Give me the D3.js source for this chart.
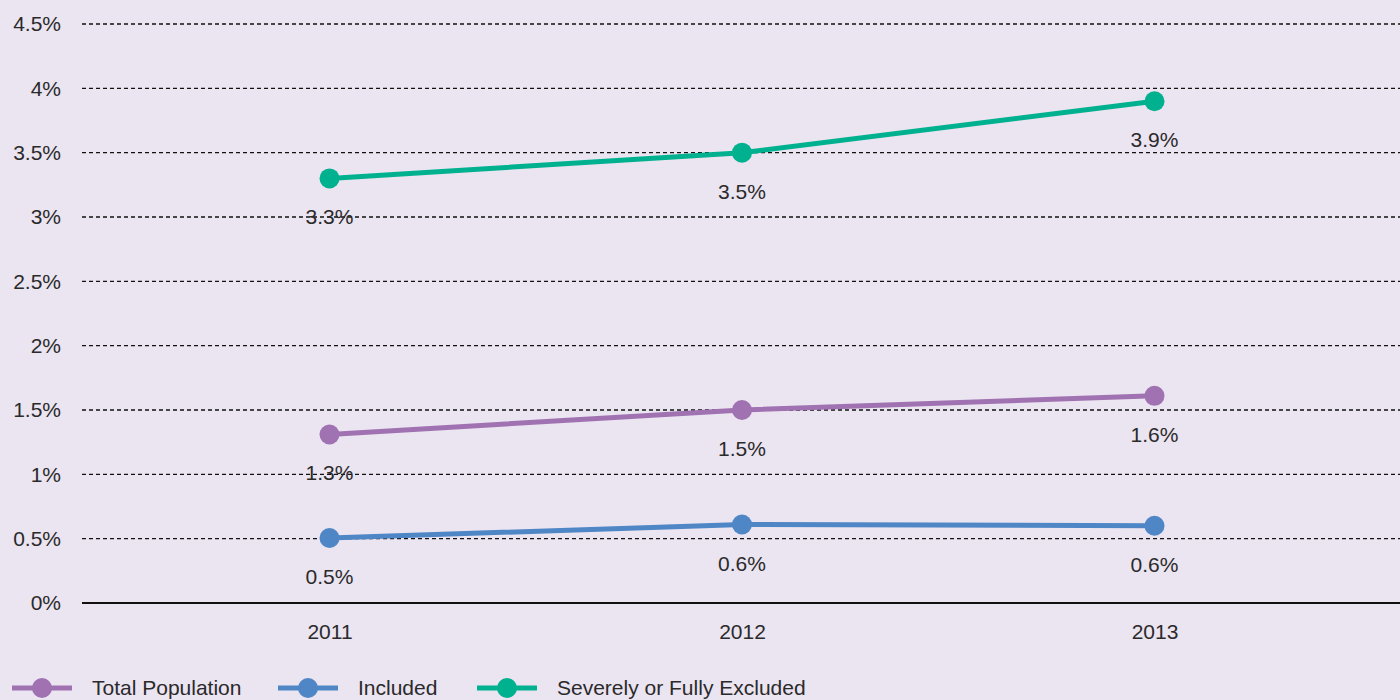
<!DOCTYPE html>
<html><head><meta charset="utf-8">
<script src="https://cdn.jsdelivr.net/npm/d3@7"></script>
<style>
html,body{margin:0;padding:0;background:#ebe4f1;}
svg{display:block;font-family:"Liberation Sans",Arial,sans-serif;}
</style></head>
<body>
<svg id="chart" width="1400" height="700"></svg>
<script>
const years = ["2011","2012","2013"];
const totalPopulation = [1.31, 1.5, 1.61];
const included = [0.505, 0.61, 0.6];
const severelyExcluded = [3.3, 3.5, 3.9];
const yTicks = [0,0.5,1,1.5,2,2.5,3,3.5,4,4.5];
const series = [
  {name:"Total Population", values: totalPopulation, color:"#a072b1"},
  {name:"Included", values: included, color:"#4f86c6"},
  {name:"Severely or Fully Excluded", values: severelyExcluded, color:"#00b18f"}
];

const svg = d3.select("#chart");
svg.append("rect").attr("width",1400).attr("height",700).attr("fill","#ebe4f1");

const x = d3.scalePoint().domain(years).range([82,1402]).padding(0.6);
const y = d3.scaleLinear().domain([0,4.5]).range([603,24]);

// gridlines
const grid = svg.append("g");
grid.selectAll("line").data(yTicks.filter(d=>d>0)).join("line")
  .attr("x1",82).attr("x2",1400)
  .attr("y1",d=>y(d)).attr("y2",d=>y(d))
  .attr("stroke","#111").attr("stroke-width",1.3).attr("stroke-dasharray","4,3");

// y axis labels
const yAxis = d3.axisLeft(y).tickValues(yTicks).tickSize(0).tickPadding(0)
  .tickFormat(d=>d3.format("~g")(d)+"%");
const ya = svg.append("g").attr("transform","translate(61,0)").call(yAxis);
ya.select(".domain").remove();
ya.selectAll("text").attr("font-size",21).attr("fill","#2a2a2a").attr("font-family","Liberation Sans, Arial, sans-serif");

// zero line
svg.append("line").attr("x1",82).attr("x2",1400).attr("y1",y(0)).attr("y2",y(0))
  .attr("stroke","#111").attr("stroke-width",2);

// x axis labels
const xAxis = d3.axisBottom(x).tickSize(0).tickPadding(0);
const xa = svg.append("g").attr("transform","translate(0,639)").call(xAxis);
xa.select(".domain").remove();
xa.selectAll("text").attr("font-size",21).attr("fill","#2a2a2a").attr("dy","0").attr("font-family","Liberation Sans, Arial, sans-serif");

// lines
const line = d3.line().x((d,i)=>x(years[i])).y(d=>y(d));
series.forEach(s=>{
  svg.append("path").attr("d",line(s.values)).attr("fill","none")
    .attr("stroke",s.color).attr("stroke-width",5);
  svg.selectAll(null).data(s.values).join("circle")
    .attr("cx",(d,i)=>x(years[i])).attr("cy",d=>y(d)).attr("r",10).attr("fill",s.color);
  svg.selectAll(null).data(s.values).join("text")
    .attr("x",(d,i)=>x(years[i])).attr("y",d=>y(d)+46)
    .attr("text-anchor","middle").attr("font-size",21).attr("fill","#2a2a2a")
    .text(d=>d3.format(".1f")(d)+"%");
});

// legend
const legendX = [12, 278, 477];
series.forEach((s,i)=>{
  const g = svg.append("g").attr("transform",`translate(${legendX[i]},688)`);
  g.append("line").attr("x1",0).attr("x2",60).attr("y1",0).attr("y2",0)
    .attr("stroke",s.color).attr("stroke-width",5);
  g.append("circle").attr("cx",30).attr("cy",0).attr("r",10).attr("fill",s.color);
  g.append("text").attr("x",80).attr("y",7).attr("font-size",21).attr("fill","#2a2a2a").text(s.name);
});
</script>
</body></html>
